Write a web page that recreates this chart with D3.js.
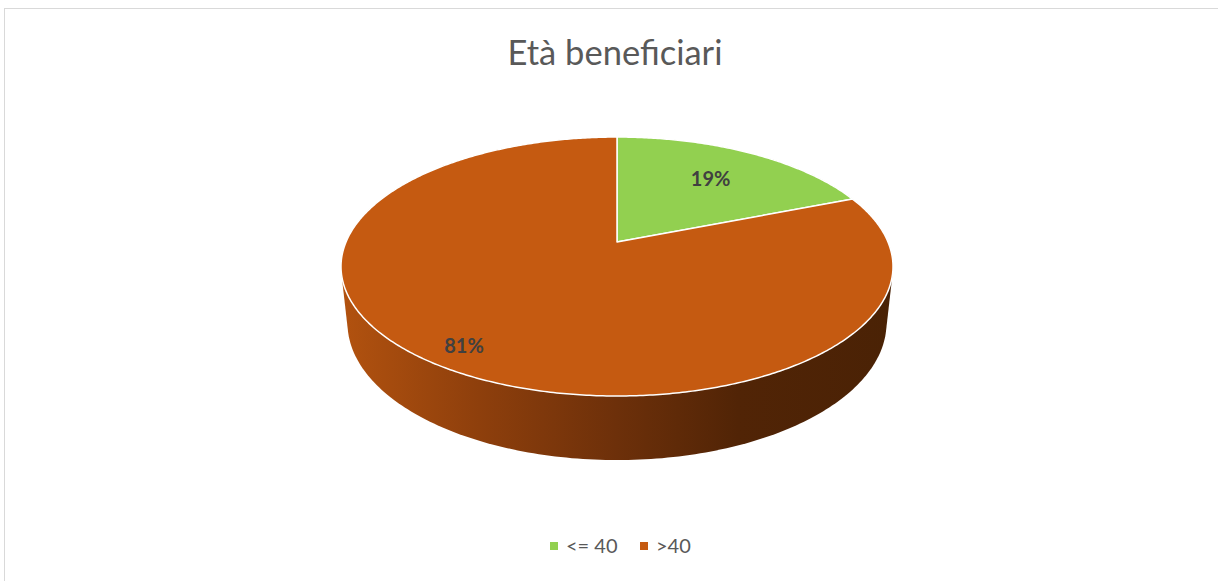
<!DOCTYPE html>
<html>
<head>
<meta charset="utf-8">
<script src="https://cdn.jsdelivr.net/npm/d3@7"></script>
<style>
  body { margin: 0; background: #fff; }
  svg { display: block; font-family: Lato, "Open Sans", sans-serif; }
</style>
</head>
<body>
<svg id="chart" width="1218" height="581"></svg>
<script>
const title = "Età beneficiari";
const categories = ["<= 40", ">40"];
const values = [19, 81];
const colors = ["#92D050", "#C55A11"];

const width = 1218, height = 581;
const svg = d3.select("#chart");

// chart frame (right and bottom edges fall outside the picture)
svg.append("rect")
    .attr("x", 4.5).attr("y", 8.5)
    .attr("width", 1240).attr("height", 600)
    .attr("fill", "none")
    .attr("stroke", "#d9d9d9");

svg.append("text")
    .attr("x", 615).attr("y", 65)
    .attr("text-anchor", "middle")
    .attr("fill", "#595959")
    .style("font-size", "34.5px")
    .text(title);

// simple perspective camera looking down on the pie
const cx = 617, cy = 242;
const tilt = Math.asin(0.4607);
const dist = 4.688;            // camera distance, in pie radii
const focal = 271 * dist;      // pixels
const depth = 0.237;           // pie thickness, in pie radii

function project(x, y, z) {
    const yy = y * Math.cos(tilt) + z * Math.sin(tilt);
    const dd = dist + z * Math.cos(tilt) - y * Math.sin(tilt);
    return [cx + focal * x / dd, cy - focal * yy / dd];
}

function rim(a, r = 1, y = 0) {
    return project(r * Math.sin(a), y, r * Math.cos(a));
}

const pie = d3.pie().sort(null).value(d => d).startAngle(0).endAngle(2 * Math.PI);
const arcs = pie(values);

// side wall: hull of top and bottom rims
const rimPts = [];
for (let i = 0; i < 360; i++) {
    const a = i / 360 * 2 * Math.PI;
    rimPts.push(rim(a, 1, 0));
    rimPts.push(rim(a, 1, -depth));
}
const hull = d3.polygonHull(rimPts);

const defs = svg.append("defs");
const grad = defs.append("linearGradient")
    .attr("id", "side")
    .attr("gradientUnits", "userSpaceOnUse")
    .attr("x1", cx - 276).attr("x2", cx + 276)
    .attr("y1", 0).attr("y2", 0);
[[0, "#b2520f"], [0.25, "#8e3f0c"], [0.5, "#6d300a"], [0.72, "#512406"], [1, "#4a2205"]]
    .forEach(([o, c]) => grad.append("stop").attr("offset", o).attr("stop-color", c));

svg.append("path")
    .attr("d", "M" + hull.join("L") + "Z")
    .attr("fill", "url(#side)");

const line = d3.line();

function slicePoints(d) {
    const pts = [project(0, 0, 0)];
    const n = Math.max(2, Math.ceil((d.endAngle - d.startAngle) / 0.01));
    for (let i = 0; i <= n; i++) {
        pts.push(rim(d.startAngle + (d.endAngle - d.startAngle) * i / n));
    }
    return pts;
}

svg.append("g")
    .selectAll("path")
    .data(arcs)
    .join("path")
    .attr("d", d => line(slicePoints(d)) + "Z")
    .attr("fill", (d, i) => colors[i])
    .attr("stroke", "#fff")
    .attr("stroke-width", 1.5)
    .attr("stroke-linejoin", "round");

// labels
const labelR = [0.68, 0.868];
const total = d3.sum(values);
svg.append("g")
    .selectAll("text")
    .data(arcs)
    .join("text")
    .attr("transform", (d, i) => {
        const p = rim((d.startAngle + d.endAngle) / 2, labelR[i]);
        return `translate(${p[0]},${p[1]})`;
    })
    .attr("text-anchor", "middle")
    .attr("dy", "0.35em")
    .attr("fill", "#404040")
    .style("font-size", "20px")
    .style("font-weight", "bold")
    .text(d => Math.round(d.value / total * 100) + "%");

// legend
const legendX = [550, 640];
const legend = svg.append("g")
    .selectAll("g")
    .data(categories)
    .join("g")
    .attr("transform", (d, i) => `translate(${legendX[i]},546)`);

legend.append("rect")
    .attr("x", 0).attr("y", -4)
    .attr("width", 8).attr("height", 8)
    .attr("fill", (d, i) => colors[i]);

legend.append("text")
    .attr("x", 16).attr("y", 0)
    .attr("dy", "0.35em")
    .attr("fill", "#595959")
    .style("font-size", "20px")
    .text(d => d);
</script>
</body>
</html>
